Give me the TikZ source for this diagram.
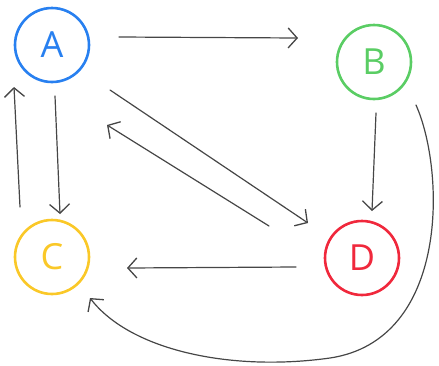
\documentclass[tikz,border=0pt]{standalone}
\usepackage{fontspec}
\setmainfont{Open Sans}
\usetikzlibrary{arrows.meta,calc}
\definecolor{cA}{RGB}{40,128,240}
\definecolor{cB}{RGB}{90,205,100}
\definecolor{cC}{RGB}{250,200,40}
\definecolor{cD}{RGB}{240,40,60}
\definecolor{pencil}{RGB}{70,70,70}
\begin{document}
\begin{tikzpicture}[x=1pt,y=-1pt,
  vert/.style={circle,draw=#1,text=#1,line width=2.6pt,minimum size=74pt,inner sep=0pt,
    font=\fontsize{36}{36}\selectfont},
  arr/.style={draw=pencil,line width=1.2pt,line cap=round,
    -{Straight Barb[length=9pt,width=20pt,line width=1.3pt]}}]
\useasboundingbox (0,0) rectangle (439,365);
\node[vert=cA] (A) at (52,45) {A};
\node[vert=cB] (B) at (374,62) {B};
\node[vert=cC] (C) at (52,257) {C};
\node[vert=cD] (D) at (362,258) {D};
% A -> B
\draw[arr] ($(A)+(67,-8)$) -- ($(B)+(-76,-24)$);
% B -> D
\draw[arr] ($(B)+(2,51)$) -- ($(D)+(10,-47)$);
% A -> C
\draw[arr] ($(A)+(3,51)$) -- ($(C)+(8,-43)$);
% C -> A
\draw[arr] ($(C)+(-32,-50)$) -- ($(A)+(-38,42)$);
% A -> D
\draw[arr] ($(A)+(58,45)$) -- ($(D)+(-54,-35)$);
% D -> A
\draw[arr] ($(D)+(-93,-32)$) -- ($(A)+(55,80)$);
% D -> C
\draw[arr] ($(D)+(-66,9)$) -- ($(C)+(75,11)$);
% B -> C
\coordinate (bs) at ($(B)+(42,43)$);
\coordinate (ce) at ($(C)+(38,41)$);
\draw[arr] (bs) .. controls (445,170) and (450,340) .. (330,358)
  .. controls (230,372) and (130,350) .. (ce);
\end{tikzpicture}
\end{document}
